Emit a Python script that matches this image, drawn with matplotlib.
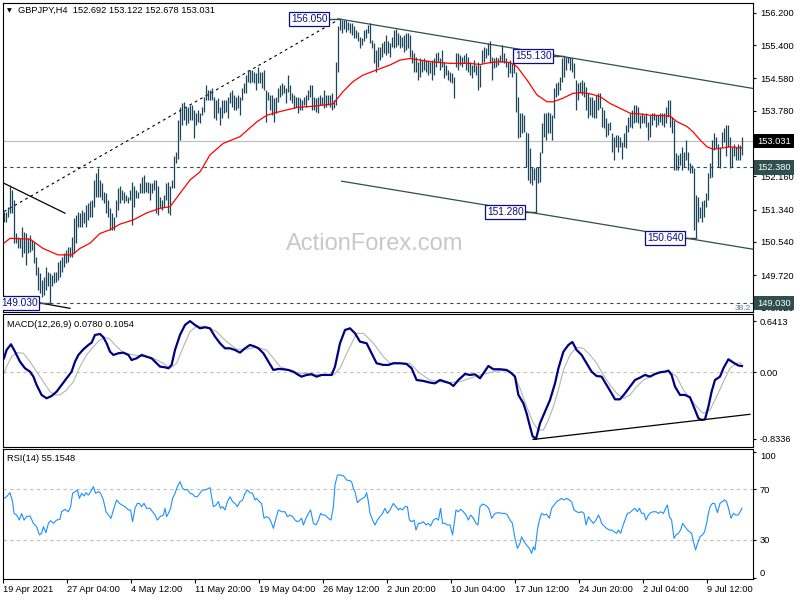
import numpy as np
import matplotlib
matplotlib.use('Agg')
import matplotlib.pyplot as plt
from matplotlib.transforms import blended_transform_factory

plt.rcParams['font.family'] = ['Liberation Sans', 'DejaVu Sans']

# ---------------- data (H4 bars, index 0 = 19 Apr 2021 00:00) ----------------
highs = [
151.29, 151.29, 151.41, 151.95, 151.82, 151.58, 150.75, 150.67, 150.63, 150.92,
150.79, 150.75, 150.63, 150.71, 150.59, 150.55, 150.18, 149.93, 149.77, 149.60,
149.68, 149.93, 149.81, 149.77, 149.72, 149.81, 149.81, 150.05, 150.09, 150.18,
150.26, 150.34, 150.42, 150.42, 150.67, 151.12, 151.20, 151.29, 151.25, 151.33,
151.29, 151.45, 151.49, 151.54, 151.58, 152.07, 152.24, 152.36, 152.07, 151.99,
151.78, 151.74, 151.58, 151.37, 151.25, 151.16, 151.58, 151.86, 151.91, 151.82,
151.78, 151.70, 151.66, 151.82, 152.03, 151.91, 151.82, 151.78, 151.99, 152.15,
152.19, 152.03, 152.03, 151.99, 151.99, 152.07, 152.07, 151.91, 151.66, 151.58,
151.70, 151.99, 152.03, 151.91, 152.07, 152.65, 152.77, 153.55, 153.88, 153.96,
154.00, 153.88, 153.88, 153.92, 153.92, 153.80, 153.72, 153.80, 153.72, 153.88,
154.13, 154.41, 154.29, 154.29, 154.33, 154.13, 154.05, 154.09, 153.88, 154.05,
154.05, 154.05, 154.13, 154.25, 154.29, 154.17, 154.13, 154.17, 154.13, 154.33,
154.46, 154.66, 154.79, 154.79, 154.79, 154.74, 154.70, 154.87, 154.74, 154.74,
154.79, 154.29, 154.25, 154.17, 154.17, 154.09, 154.13, 154.33, 154.41, 154.46,
154.41, 154.33, 154.66, 154.41, 154.21, 154.17, 154.13, 154.13, 154.09, 154.05,
154.13, 154.17, 154.29, 154.41, 154.41, 154.13, 154.09, 154.13, 154.17, 154.13,
154.29, 154.17, 154.17, 154.17, 154.21, 154.05, 154.99, 155.86, 156.05, 156.03,
156.02, 156.02, 155.98, 155.94, 155.94, 155.86, 155.77, 155.73, 155.61, 155.57,
155.77, 155.81, 155.90, 155.94, 155.53, 155.44, 155.28, 155.36, 155.36, 155.44,
155.49, 155.65, 155.49, 155.44, 155.61, 155.77, 155.81, 155.69, 155.65, 155.61,
155.65, 155.69, 155.69, 155.65, 155.28, 155.20, 155.11, 154.99, 155.07, 155.03,
155.07, 155.03, 155.03, 154.99, 155.03, 155.07, 155.20, 155.24, 155.07, 155.28,
154.99, 154.91, 154.79, 154.74, 154.70, 154.62, 155.20, 155.20, 155.16, 155.11,
155.16, 155.20, 155.11, 154.99, 154.91, 155.03, 154.91, 154.99, 154.91, 155.28,
155.36, 155.32, 155.44, 155.49, 155.11, 155.07, 155.11, 155.07, 155.16, 155.40,
155.20, 155.07, 154.99, 155.03, 154.95, 154.99, 154.74, 154.13, 153.72, 153.72,
153.67, 153.26, 153.22, 152.85, 152.40, 152.36, 152.40, 152.40, 152.77, 153.47,
153.72, 153.72, 153.76, 153.72, 153.67, 154.33, 154.46, 154.50, 154.62, 155.07,
155.13, 155.11, 155.11, 155.11, 155.07, 154.95, 154.54, 154.46, 154.50, 154.54,
154.50, 154.37, 154.21, 154.13, 154.13, 154.05, 154.17, 154.21, 154.21, 153.88,
153.80, 153.59, 153.47, 153.51, 153.22, 153.14, 153.18, 153.18, 153.14, 153.02,
153.22, 153.43, 153.63, 153.72, 153.80, 153.92, 153.92, 153.88, 153.67, 153.72,
153.67, 153.72, 153.51, 153.67, 153.72, 153.72, 153.67, 153.67, 153.72, 153.72,
153.72, 153.88, 154.05, 154.05, 153.63, 153.55, 152.73, 152.69, 152.73, 152.89,
152.77, 153.06, 152.77, 152.48, 152.44, 152.36, 151.70, 151.66, 151.41, 151.54,
151.58, 151.74, 152.24, 152.48, 153.06, 153.22, 153.14, 152.97, 152.89, 153.26,
153.35, 153.43, 153.43, 153.14, 152.89, 152.97, 152.89, 152.97, 152.93, 153.122,
]
lows = [
151.04, 151.04, 151.16, 151.25, 151.25, 150.51, 150.51, 150.38, 150.38, 150.18,
150.26, 149.97, 150.26, 150.30, 150.34, 150.01, 149.72, 149.35, 149.27, 149.19,
149.23, 149.35, 149.44, 149.03, 149.44, 149.52, 149.56, 149.60, 149.68, 149.81,
149.93, 150.01, 150.05, 150.18, 150.18, 150.26, 150.51, 150.92, 150.92, 150.92,
151.00, 150.92, 151.08, 151.16, 151.16, 151.41, 151.66, 151.66, 151.66, 151.58,
151.49, 151.25, 151.16, 150.84, 150.84, 150.84, 151.16, 151.33, 151.49, 151.58,
151.49, 151.54, 151.49, 151.58, 150.96, 151.41, 151.62, 151.62, 151.74, 151.74,
151.74, 151.78, 151.74, 151.58, 151.74, 151.82, 151.25, 151.20, 151.37, 151.33,
151.41, 151.58, 151.25, 151.20, 151.86, 151.86, 152.48, 152.60, 153.06, 153.43,
153.55, 153.43, 153.47, 153.55, 153.55, 153.10, 153.43, 153.51, 153.47, 153.67,
153.76, 154.05, 154.05, 154.05, 154.05, 153.59, 153.55, 153.72, 153.43, 153.59,
153.72, 153.76, 153.59, 153.96, 153.88, 153.80, 153.80, 153.84, 153.67, 154.05,
154.21, 154.21, 154.50, 154.46, 154.50, 154.46, 154.29, 154.46, 154.46, 154.33,
154.29, 153.51, 154.05, 153.80, 153.67, 153.51, 153.72, 154.00, 154.13, 154.17,
154.21, 153.96, 154.25, 154.05, 153.96, 153.84, 153.88, 153.72, 153.80, 153.80,
153.92, 153.88, 154.05, 154.13, 153.80, 153.80, 153.76, 153.72, 153.92, 153.92,
153.84, 153.88, 153.92, 153.88, 153.80, 153.84, 153.92, 154.74, 155.77, 155.69,
155.81, 155.73, 155.77, 155.69, 155.65, 155.57, 155.57, 155.49, 155.32, 155.40,
155.49, 155.57, 155.69, 155.44, 155.32, 154.95, 154.74, 154.87, 155.03, 155.11,
155.20, 155.16, 155.20, 155.11, 155.36, 155.32, 155.36, 155.40, 155.32, 155.36,
155.24, 155.28, 155.32, 155.11, 154.95, 154.74, 154.74, 154.54, 154.62, 154.74,
154.79, 154.74, 154.66, 154.70, 154.54, 154.66, 154.87, 154.99, 154.79, 154.87,
154.58, 154.66, 154.54, 154.50, 154.46, 154.09, 154.87, 154.79, 154.91, 154.87,
154.95, 154.79, 154.74, 154.66, 154.58, 154.74, 154.66, 154.29, 154.37, 154.95,
154.99, 155.07, 155.16, 154.95, 154.54, 154.83, 154.87, 154.91, 154.99, 154.99,
154.95, 154.87, 154.62, 154.70, 154.62, 154.70, 153.76, 153.10, 153.14, 153.22,
153.26, 152.40, 152.07, 151.99, 151.95, 152.07, 151.28, 151.99, 152.03, 152.73,
153.14, 153.06, 153.22, 153.22, 153.06, 153.59, 154.13, 154.17, 154.29, 154.50,
154.62, 154.79, 154.95, 154.79, 154.74, 154.58, 153.80, 154.05, 154.21, 154.17,
154.13, 153.80, 153.59, 153.67, 153.63, 153.59, 153.59, 153.80, 153.84, 153.39,
153.35, 153.14, 153.18, 153.30, 152.77, 152.56, 152.89, 152.77, 152.89, 152.60,
152.89, 152.85, 153.26, 153.39, 153.35, 153.47, 153.51, 153.47, 153.35, 153.47,
153.47, 153.39, 153.06, 153.14, 153.43, 153.55, 153.39, 153.43, 153.51, 153.43,
153.39, 153.47, 153.63, 153.39, 153.22, 152.32, 152.32, 152.32, 152.44, 152.32,
152.40, 152.56, 152.32, 152.24, 152.24, 150.84, 150.64, 151.04, 151.12, 151.04,
151.16, 151.41, 151.58, 152.11, 152.15, 152.81, 152.85, 152.40, 152.36, 152.89,
153.02, 152.65, 152.89, 152.36, 152.40, 152.65, 152.56, 152.56, 152.56, 152.678,
]

# moving average (red) read at these bar positions
ma_bar = [0, 3, 13, 19.5, 27, 34, 38, 43, 48, 53, 58, 64.5, 71.5, 78, 83, 88, 93, 98,
          103, 109.5, 118, 126.5, 131.5, 138, 146.5, 156.5, 164.5, 169.5, 174.5, 179.5,
          186.5, 193, 198, 203, 213, 223, 233, 238, 243, 248, 253, 256.5, 261.5, 266.5,
          271.5, 274.5, 279.5, 284.5, 289.5, 294.5, 298, 303, 308, 313, 318, 323, 328,
          333, 336.5, 341.5, 344.5, 348, 351.5, 354.5, 358, 363, 368, 369]
ma_val = [150.51, 150.63, 150.61, 150.38, 150.22, 150.22, 150.38, 150.51, 150.75, 150.84,
          150.98, 151.08, 151.26, 151.37, 151.41, 151.74, 152.07, 152.27, 152.69, 152.97,
          153.14, 153.51, 153.67, 153.76, 153.86, 153.90, 153.95, 154.25, 154.50, 154.66,
          154.79, 154.91, 155.03, 155.07, 154.99, 154.95, 154.95, 154.92, 154.97, 154.99,
          154.97, 154.87, 154.54, 154.17, 154.00, 154.00, 154.09, 154.21, 154.23, 154.18,
          154.13, 153.96, 153.84, 153.72, 153.70, 153.67, 153.66, 153.65, 153.51, 153.39,
          153.26, 153.06, 152.89, 152.83, 152.85, 152.89, 152.86, 152.86]

macd_bar = [
0, 1.3, 3.5, 5.5, 8, 10.5, 13, 14.7, 16.3, 18.8,
21.3, 23.8, 26.3, 28.8, 31.3, 33.8, 35.5, 37.2, 39.7, 42.2,
43.8, 45.5, 48, 49.7, 51.3, 53, 54.7, 57.2, 59.7, 62.2,
63.8, 66.3, 68.8, 71.3, 73.8, 75.5, 78, 80.5, 82.2, 83.8,
85.5, 88, 90.5, 93, 95.5, 98, 100.5, 103, 105.5, 108,
110.5, 113, 115.5, 118, 120.5, 123, 125.5, 127.2, 129.7, 132.2,
134.7, 137.2, 139.7, 142.2, 144.7, 147.2, 148.8, 151.3, 153.8, 156.3,
158.8, 161.3, 163.8, 165.5, 168, 170.5, 173, 175.5, 178, 181.3,
183.8, 186.3, 189.7, 192.2, 194.7, 198, 201.3, 203.8, 206.3, 209.7,
213, 215.5, 218, 220.5, 223, 224.7, 227.2, 230.5, 233, 235.5,
238, 240.5, 242.2, 244.7, 248, 251.3, 253.8, 255.5, 257.2, 259.7,
261.3, 263, 264.3, 266, 268, 270.5, 273, 275.5, 277.2, 279.7,
282.2, 284.2, 286.3, 288.8, 291.3, 293.8, 296.3, 298.8, 301.3, 303.8,
305.5, 308, 310.5, 313, 315.5, 318, 320.5, 323, 325.5, 328,
330.5, 332.2, 333.8, 335.5, 338, 340.5, 343, 345.5, 347.2, 348.8,
350.5, 352.2, 353.8, 355.5, 358, 359.7, 362.2, 364.7, 367.2, 369]
macd_val = [
0.175, 0.279, 0.35, 0.258, 0.133, 0.05, 0.008, -0.054, -0.158, -0.283,
-0.325, -0.296, -0.242, -0.158, -0.075, 0.008, 0.133, 0.217, 0.288, 0.342,
0.371, 0.467, 0.479, 0.438, 0.363, 0.258, 0.217, 0.238, 0.246, 0.217,
0.154, 0.175, 0.217, 0.196, 0.175, 0.133, 0.071, 0.063, 0.05, 0.092,
0.279, 0.467, 0.592, 0.64, 0.592, 0.55, 0.563, 0.55, 0.446, 0.363,
0.3, 0.3, 0.279, 0.246, 0.3, 0.342, 0.321, 0.3, 0.238, 0.133,
0.029, 0.042, 0.038, 0.029, 0.008, -0.033, -0.054, -0.033, -0.025, -0.054,
-0.033, -0.033, -0.033, 0.071, 0.363, 0.529, 0.55, 0.488, 0.383, 0.363,
0.238, 0.113, 0.092, 0.092, 0.113, 0.113, 0.104, 0.05, -0.096, -0.108,
-0.129, -0.138, -0.096, -0.117, -0.138, -0.171, -0.096, -0.021, -0.033, -0.025,
-0.075, 0.017, 0.079, 0.038, 0.038, 0.029, -0.013, -0.054, -0.283, -0.388,
-0.513, -0.679, -0.80, -0.833, -0.638, -0.492, -0.346, -0.138, 0.05, 0.258,
0.342, 0.379, 0.279, 0.217, 0.113, 0.008, -0.046, -0.054, -0.158, -0.263,
-0.338, -0.338, -0.263, -0.179, -0.096, -0.067, -0.033, -0.054, -0.021, 0.0,
0.008, 0.021, -0.033, -0.179, -0.283, -0.283, -0.313, -0.471, -0.575, -0.596,
-0.588, -0.429, -0.242, -0.096, -0.054, 0.05, 0.163, 0.121, 0.085, 0.078]

sig_bar = [
0, 1.3, 3.8, 6.3, 9.7, 13, 16.3, 19.7, 23, 25.5,
28, 31.3, 34.7, 38, 41.3, 44.7, 48, 50.5, 53, 56.3,
59.7, 64.7, 69.7, 74.7, 79.7, 83, 86.3, 89.7, 93, 96.3,
101.3, 106.3, 111.3, 116.3, 121.3, 126.3, 131.3, 134.7, 138, 143,
148, 153, 158, 164.7, 168, 172.2, 176.3, 179.7, 184.7, 189.7,
193, 198, 203, 208, 213, 218, 223, 228, 233, 238,
243, 248, 253, 255.5, 258, 261.3, 264.7, 267.2, 269.7, 272.2,
274.7, 277.2, 279.7, 283, 286.3, 289.7, 293, 296.3, 299.7, 303,
306.3, 309.7, 313, 316.3, 319.7, 324.7, 329.7, 333, 336.3, 339.7,
343, 346.3, 349.7, 353, 356.3, 359.7, 363, 366.3, 368, 369]
sig_val = [
-0.013, 0.071, 0.196, 0.246, 0.238, 0.133, 0.008, -0.117, -0.242, -0.283,
-0.283, -0.221, -0.117, 0.071, 0.217, 0.321, 0.404, 0.438, 0.413, 0.321,
0.246, 0.217, 0.196, 0.175, 0.113, 0.05, 0.113, 0.321, 0.508, 0.579,
0.571, 0.508, 0.383, 0.288, 0.288, 0.313, 0.279, 0.175, 0.071, 0.017,
-0.013, -0.013, -0.033, -0.033, 0.05, 0.279, 0.488, 0.488, 0.363, 0.196,
0.113, 0.113, 0.113, -0.013, -0.096, -0.117, -0.129, -0.117, -0.075, -0.033,
-0.004, 0.021, 0.017, -0.054, -0.2, -0.429, -0.638, -0.721, -0.721, -0.596,
-0.429, -0.221, 0.029, 0.217, 0.313, 0.3, 0.217, 0.113, -0.033, -0.158,
-0.263, -0.325, -0.283, -0.179, -0.096, -0.033, 0.008, 0.008, -0.054, -0.221,
-0.325, -0.429, -0.513, -0.471, -0.304, -0.117, 0.05, 0.113, 0.121, 0.1054]

rsi_bar = [
0, 1.3, 3, 4.3, 5, 6.3, 7.7, 8.8, 10, 11.3,
13, 14.7, 16.3, 17.7, 18.8, 19.7, 21, 22.2, 23.3, 24.7,
26.3, 28, 28.8, 30.5, 32.2, 33.3, 34.3, 35.5, 36.7, 37.7,
38.8, 40, 41, 42.2, 43.3, 44.7, 45.8, 47.2, 48.3, 49.7,
51, 52.2, 53.5, 54.7, 56.3, 57.7, 59, 60.5, 62.2, 63.3,
64.3, 65.5, 66.7, 67.7, 68.8, 70, 71.3, 73, 74.3, 75.5,
76.7, 78, 79.7, 80.5, 81.3, 82.2, 83.3, 84.3, 85.5, 86.7,
88, 89.3, 90.5, 91.7, 93, 94.3, 95.5, 96.7, 98, 99.2,
100.5, 101.7, 103, 103.8, 104.7, 106, 107.2, 108.3, 109.3, 110.5,
111.7, 113, 114.3, 115.5, 116.7, 118, 119.3, 120.5, 121.7, 123,
124.3, 125.5, 126.3, 127.7, 128.8, 130, 131.3, 132.7, 133.8, 134.7,
136, 137.2, 138.8, 140.5, 141.7, 143, 144.3, 145.5, 146.7, 147.7,
148.8, 149.7, 151, 152.2, 153.3, 154.7, 156, 157.2, 158.3, 159.3,
160.5, 162.2, 163.5, 164.7, 165.5, 166.7, 168, 169.7, 171.3, 173,
173.8, 174.7, 175.5, 176.7, 178, 179.3, 180.5, 181.3, 182.2, 183,
184.3, 185.5, 186.7, 188, 189.3, 190.5, 191.7, 193, 194.7, 196,
197.2, 198, 199.3, 200.5, 201.7, 202.7, 203.8, 205, 206, 207.2,
208.3, 209.7, 211, 212.2, 213.3, 214.7, 216, 217.2, 218.3, 219.3,
220.5, 221.7, 223, 224.3, 225, 226, 227.2, 228.3, 229.7, 231,
232.2, 233.3, 234.7, 236, 237, 238, 239.3, 240.5, 241.7, 242.7,
243.8, 245.5, 247.2, 248.8, 250.5, 251.7, 253, 254.2, 255.5, 256.7,
258, 258.8, 260, 261.3, 262.7, 263.8, 264.7, 265.5, 266.7, 267.7,
268.8, 270, 271.3, 272.7, 273.8, 275, 276.3, 277.7, 278.8, 280,
281.3, 282.7, 283.8, 285, 286.3, 287.5, 288.8, 290, 291, 292.2,
293.3, 294.7, 296, 297.2, 298, 298.8, 300, 301.3, 302.7, 303.8,
305, 306.3, 307.2, 308.3, 309.3, 310.5, 311.7, 313, 314.3, 315.5,
316.7, 317.7, 318.8, 320, 321, 322.2, 323.3, 324.7, 326, 327.2,
328.3, 329.7, 330.8, 331.7, 332.7, 333.8, 335, 336, 337.2, 338.3,
339.3, 340.5, 341.7, 342.7, 343.8, 344.7, 345.8, 346.8, 348, 349.2,
350.3, 351.3, 352.2, 353, 354.2, 355.3, 356.7, 358, 359.2, 360.3,
361.3, 362.5, 363.5, 364.7, 365.8, 367.2, 369]
rsi_val = [
62.9, 64.2, 67.4, 60.3, 51.0, 49.7, 45.7, 51.0, 45.7, 48.4,
48.9, 43.1, 40.5, 33.9, 35.2, 40.5, 35.7, 43.1, 45.2, 43.1,
45.7, 46.3, 52.3, 54.2, 52.3, 56.3, 66.9, 68.2, 69.5, 62.9,
66.9, 64.8, 67.4, 65.5, 68.2, 72.2, 66.9, 68.2, 66.9, 61.6,
52.3, 49.7, 47.1, 53.7, 61.6, 58.9, 57.6, 56.3, 53.7, 53.7,
44.4, 55.0, 58.9, 58.9, 56.3, 58.9, 55.0, 55.0, 52.3, 49.7,
45.7, 48.4, 49.7, 55.0, 48.4, 51.0, 55.0, 62.9, 66.9, 72.2,
76.1, 70.8, 69.5, 70.0, 66.9, 66.3, 64.2, 64.2, 66.9, 69.5,
69.5, 70.3, 71.4, 64.2, 56.3, 57.6, 60.3, 55.0, 56.3, 53.7,
60.3, 64.2, 60.3, 58.9, 56.3, 60.3, 61.6, 66.9, 69.5, 67.4,
66.9, 61.6, 62.9, 60.3, 58.9, 47.1, 48.4, 47.1, 43.1, 39.1,
47.1, 53.7, 52.3, 52.3, 48.4, 49.7, 48.4, 45.7, 44.4, 45.2,
47.1, 41.8, 47.1, 51.0, 53.7, 43.1, 41.8, 45.7, 51.0, 49.7,
49.7, 47.1, 45.7, 56.3, 73.5, 81.4, 81.4, 80.9, 77.4, 76.9,
76.1, 70.8, 68.2, 59.5, 61.6, 62.9, 64.2, 67.4, 60.3, 51.0,
45.7, 41.8, 45.7, 48.4, 51.0, 55.0, 51.0, 53.7, 58.9, 56.3,
53.7, 55.0, 53.7, 56.3, 56.3, 45.7, 44.4, 45.7, 37.8, 43.1,
43.1, 44.4, 41.8, 43.1, 41.0, 45.7, 47.1, 45.7, 55.0, 43.1,
43.1, 41.8, 41.8, 33.9, 41.8, 53.7, 52.3, 54.2, 52.3, 49.7,
45.7, 49.7, 47.1, 43.1, 41.8, 56.3, 58.4, 57.6, 56.3, 53.7,
47.1, 51.0, 51.6, 51.0, 51.0, 49.7, 45.7, 43.1, 31.2, 23.3,
27.3, 32.5, 28.6, 25.9, 23.3, 19.3, 24.6, 22.0, 37.8, 45.7,
51.0, 49.7, 50.4, 47.1, 55.0, 57.6, 60.3, 61.6, 62.9, 61.6,
62.9, 61.6, 60.3, 53.7, 52.3, 51.6, 52.3, 51.0, 41.8, 48.4,
45.7, 43.1, 45.7, 49.7, 47.1, 43.1, 41.0, 39.1, 37.8, 37.8,
36.5, 35.2, 37.8, 35.2, 40.5, 45.7, 51.0, 51.6, 53.7, 55.0,
52.3, 55.0, 51.0, 51.0, 45.7, 49.7, 51.6, 52.3, 52.3, 51.0,
52.3, 51.0, 55.0, 57.6, 48.4, 45.7, 31.2, 33.9, 35.2, 37.8,
43.1, 40.5, 37.8, 36.5, 35.2, 28.6, 22.0, 27.3, 32.5, 33.9,
36.5, 43.1, 51.0, 56.3, 58.9, 58.9, 51.6, 58.9, 60.3, 61.6,
60.3, 53.7, 47.1, 51.0, 49.7, 49.7, 55.15]

assert len(highs) == len(lows) == 370, (len(highs), len(lows))
assert len(ma_bar) == len(ma_val), (len(ma_bar), len(ma_val))
assert len(macd_bar) == len(macd_val), (len(macd_bar), len(macd_val))
assert len(sig_bar) == len(sig_val), (len(sig_bar), len(sig_val))
assert len(rsi_bar) == len(rsi_val), (len(rsi_bar), len(rsi_val))

last_ohlc = [152.692, 153.122, 152.678, 153.031]
price_ticks = [156.200, 155.400, 154.580, 153.780, 152.160, 151.340, 150.540, 149.720, 148.920]
current_price = 153.031
support_level = 152.380
low_level = 149.030
date_labels = ['19 Apr 2021', '27 Apr 04:00', '4 May 12:00', '11 May 20:00', '19 May 04:00',
               '26 May 12:00', '2 Jun 20:00', '10 Jun 04:00', '17 Jun 12:00', '24 Jun 20:00',
               '2 Jul 04:00', '9 Jul 12:00']
bars_per_label = 32
swing_bar = [168, 280, 266, 346, 23]
swing_price = [156.050, 155.130, 151.280, 150.640, 149.030]
upper_channel = ([167, 374.5], [156.05, 154.33])
lower_channel = ([168.8, 374.5], [152.04, 150.36])
rising_line = ([0, 166.3], [151.29, 156.00])
short_line = ([-0.5, 30.5], [152.00, 151.25])
bottom_line = ([-0.5, 33], [149.20, 148.90])
macd_trend = ([264.5, 373], [-0.84, -0.525])
macd_ticks = [0.6413, 0.0, -0.8336]
macd_last = [0.0780, 0.1054]
rsi_ticks = [100, 70, 30, 0]
rsi_last = 55.1548

# ---------------- figure ----------------
W, H = 800, 600
fig = plt.figure(figsize=(8, 6), dpi=100)
fig.patch.set_facecolor('white')

def rect(top, bottom):
    return [3 / W, 1 - bottom / H, 750 / W, (bottom - top) / H]

ax = fig.add_axes(rect(3, 312))
axm = fig.add_axes(rect(314, 447))
axr = fig.add_axes(rect(449, 579))

FS = 6.7
BAR = '#1b465a'
SLATE = '#2f4f4f'
NAVY = '#0c0c86'

for a in (ax, axm, axr):
    a.set_xlim(-0.5, 374.5)
    a.yaxis.tick_right()
    a.tick_params(axis='y', direction='out', length=2.5, width=0.8, pad=2.5, labelsize=FS)
    for s in a.spines.values():
        s.set_linewidth(0.8)
        s.set_color('black')
    a.set_facecolor('white')

# ---------------- main price panel ----------------
ax.set_ylim(148.81, 156.44)
x = np.arange(len(highs))
ax.vlines(x, lows, highs, color=BAR, lw=0.9, zorder=3)
ax.plot(ma_bar, ma_val, color='#ff0000', lw=0.9, zorder=4)

ax.axhline(current_price, color='#c0c0c0', lw=0.9, zorder=1)
ax.axhline(support_level, color=SLATE, lw=0.8, ls=(0, (3, 3)), zorder=1)
ax.axhline(low_level, color=SLATE, lw=0.8, ls=(0, (3, 3)), zorder=1)

ax.plot(*upper_channel, color=SLATE, lw=0.9, zorder=2)
ax.plot(*lower_channel, color=SLATE, lw=0.9, zorder=2)
ax.plot(*rising_line, color='black', lw=0.8, ls=(0, (2.5, 3)), zorder=2)
ax.plot(*short_line, color='black', lw=0.9, zorder=2)
ax.plot(*bottom_line, color='black', lw=0.9, zorder=2)

for b, p in zip(swing_bar, swing_price):
    ax.plot([b - 5.2, b], [p, p], color=SLATE, lw=1.0, zorder=5)
    ax.text(b - 6.3, p, f'{p:.3f}', ha='right', va='center', fontsize=7.3, color=NAVY,
            zorder=6, clip_on=True,
            bbox=dict(boxstyle='square,pad=0.18', fc='white', ec=NAVY, lw=0.9))

ax.set_xticks([])
ax.set_yticks(price_ticks)
ax.set_yticklabels([f'{p:.3f}' for p in price_ticks])

trans = blended_transform_factory(ax.transAxes, ax.transData)
ax.text(1.0055, current_price, f'{current_price:.3f}', transform=trans, ha='left', va='center',
        fontsize=FS, color='white', zorder=10,
        bbox=dict(boxstyle='square,pad=0.3', fc='black', ec='none'))
ax.text(1.0055, support_level, f'{support_level:.3f}', transform=trans, ha='left', va='center',
        fontsize=FS, color='white', zorder=10,
        bbox=dict(boxstyle='square,pad=0.3', fc=SLATE, ec='none'))
ax.text(1.0055, low_level, f'{low_level:.3f}', transform=trans, ha='left', va='center',
        fontsize=FS, color='white', zorder=10,
        bbox=dict(boxstyle='square,pad=0.3', fc=SLATE, ec='none'))
ax.text(365.5, 148.99, '38.2', ha='left', va='top', fontsize=6, color='#4a7a9a', clip_on=True)

# watermark
fig.text(286 / W, 1 - 250.5 / H, 'ActionForex.com', fontsize=17, color='#c8c8c8',
         ha='left', va='baseline', zorder=0)

# title
fig.text(7 / W, 1 - 10.5 / H, '\u25BC', fontsize=4.5, family='DejaVu Sans', va='center', ha='left')
o, h, l, c = last_ohlc
fig.text(18 / W, 1 - 10.5 / H, f'GBPJPY,H4  {o:.3f} {h:.3f} {l:.3f} {c:.3f}',
         fontsize=FS, va='center', ha='left')

# ---------------- MACD panel ----------------
axm.set_ylim(-0.934, 0.729)
axm.axhline(0, color='#c0c0c0', lw=0.8, ls=(0, (3, 3)))
axm.plot(sig_bar, sig_val, color='#b4b4b4', lw=0.8, zorder=2)
axm.plot(macd_bar, macd_val, color='#000080', lw=1.6, zorder=3)
axm.plot(*macd_trend, color='black', lw=0.9, zorder=4)
axm.set_xticks([])
axm.set_yticks(macd_ticks)
axm.set_yticklabels(['0.6413', '0.00', '-0.8336'])
axm.text(4 / 750, 0.92, f'MACD(12,26,9) {macd_last[0]:.4f} {macd_last[1]:.4f}',
         transform=axm.transAxes, fontsize=FS, ha='left', va='center')

# ---------------- RSI panel ----------------
axr.set_ylim(-1, 102)
axr.axhline(70, color='#c0c0c0', lw=0.8, ls=(0, (3, 3)))
axr.axhline(30, color='#c0c0c0', lw=0.8, ls=(0, (3, 3)))
axr.plot(rsi_bar, rsi_val, color='#1e90ff', lw=0.8)
axr.set_yticks(rsi_ticks)
axr.set_yticklabels([str(t) for t in rsi_ticks])
for lab, t in zip(axr.get_yticklabels(), rsi_ticks):
    if t == 100:
        lab.set_va('top')
    elif t == 0:
        lab.set_va('bottom')
axr.text(4 / 750, 0.93, f'RSI(14) {rsi_last:.4f}', transform=axr.transAxes,
         fontsize=FS, ha='left', va='center')

xt = np.arange(len(date_labels)) * bars_per_label - 0.5
axr.set_xticks(xt)
axr.set_xticklabels(date_labels, ha='left')
axr.tick_params(axis='x', direction='out', length=3, width=0.8, pad=1.5, labelsize=FS)

fig.savefig('out.png', dpi=100, facecolor='white')
